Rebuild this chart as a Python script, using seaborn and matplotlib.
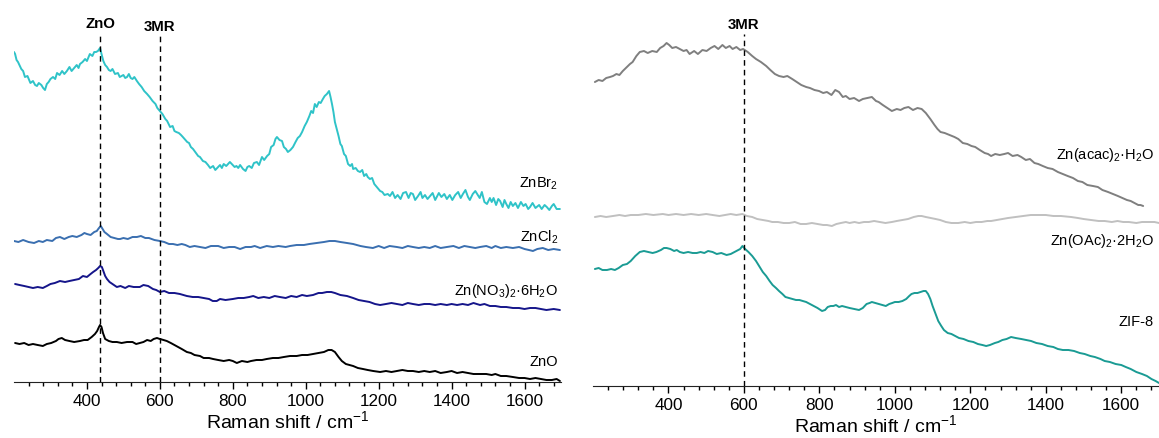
import numpy as np
import pandas as pd
import matplotlib.pyplot as plt
import seaborn as sns

# Raman shift positions (cm-1) and intensities (a.u.)
znbr2_x = [200, 203, 207, 211, 215, 220, 225, 230, 237, 245, 252, 258, 263, 268, 275, 280, 285, 290,
           295, 300, 307, 313, 318, 325, 332, 338, 345, 352, 358, 365, 372, 377, 381, 388, 395, 400,
           408, 415, 420, 425, 430, 436, 440, 445, 450, 455, 460, 465, 470, 477, 485, 490, 495, 500,
           505, 510, 515, 520, 525, 530, 537, 543, 550, 557, 565, 572, 580, 588, 593, 600, 607, 615,
           620, 628, 635, 640, 645, 652, 658, 663, 670, 675, 680, 685, 691, 697, 705, 710, 718, 725,
           732, 738, 746, 752, 760, 765, 770, 775, 782, 792, 800, 805, 810, 815, 820, 828, 835, 840,
           845, 852, 858, 866, 872, 880, 886, 894, 900, 905, 912, 917, 921, 928, 935, 940, 946, 951,
           958, 965, 972, 978, 984, 990, 997, 1003, 1010, 1015, 1020, 1025, 1030, 1036, 1041, 1047,
           1052, 1058, 1064, 1068, 1072, 1076, 1080, 1085, 1090, 1095, 1099, 1105, 1110, 1116, 1122,
           1127, 1130, 1137, 1143, 1149, 1155, 1160, 1166, 1170, 1176, 1182, 1188, 1195, 1204, 1210,
           1216, 1225, 1231, 1238, 1245, 1252, 1260, 1267, 1275, 1282, 1288, 1294, 1300, 1308, 1315,
           1320, 1327, 1334, 1341, 1348, 1355, 1365, 1372, 1380, 1387, 1395, 1402, 1410, 1418, 1425,
           1431, 1438, 1445, 1450, 1458, 1465, 1470, 1477, 1483, 1490, 1497, 1505, 1510, 1515, 1522,
           1528, 1533, 1540, 1545, 1550, 1556, 1562, 1568, 1575, 1582, 1590, 1597, 1603, 1610, 1615,
           1622, 1630, 1640, 1647, 1655, 1661, 1668, 1675, 1680, 1688, 1697]
znbr2_y = [160, 158, 152, 150, 147, 143, 141, 135, 136, 129, 131, 127, 126, 129, 127, 124, 122, 128,
           130, 133, 135, 133, 139, 137, 141, 138, 141, 145, 141, 144, 147, 144, 148, 150, 153, 151,
           158, 156, 160, 160, 161, 164, 158, 151, 147, 145, 142, 141, 143, 138, 139, 135, 136, 137,
           134, 135, 138, 134, 133, 135, 131, 128, 125, 121, 118, 115, 111, 108, 104, 101, 98, 93,
           91, 85, 86, 81, 80, 79, 77, 75, 72, 70, 69, 65, 63, 60, 56, 55, 51, 50,
           47, 44, 46, 42, 45, 47, 44, 48, 46, 50, 47, 45, 46, 44, 47, 43, 41, 45,
           46, 44, 49, 50, 47, 55, 52, 56, 58, 65, 67, 73, 75, 72, 71, 65, 63, 60,
           62, 65, 70, 74, 76, 80, 86, 90, 96, 101, 99, 108, 105, 110, 109, 113,
           116, 118, 121, 115, 108, 100, 90, 83, 76, 68, 66, 58, 56, 48, 46,
           48, 43, 44, 41, 40, 42, 36, 38, 35, 33, 34, 28, 25, 21, 20,
           17, 18, 16, 20, 14, 17, 13, 19, 20, 14, 19, 18, 12, 16, 20,
           14, 17, 13, 16, 19, 12, 19, 15, 18, 13, 17, 12, 17, 20, 14,
           18, 22, 15, 12, 18, 21, 18, 14, 20, 10, 8, 14, 10, 14, 7,
           13, 11, 5, 12, 8, 4, 10, 6, 9, 4, 10, 6, 8, 3, 5,
           9, 4, 7, 3, 7, 5, 2, 6, 8, 3, 3]

zncl2_x = [200, 212, 225, 240, 255, 268, 279, 290, 305, 315, 326, 338, 350, 360, 372, 385, 393, 400,
           410, 420, 427, 433, 438, 443, 448, 455, 465, 475, 485, 491, 500, 512, 525, 537, 548, 560,
           570, 585, 600, 612, 625, 636, 648, 660, 670, 682, 695, 710, 725, 740, 760, 775, 790, 805,
           820, 835, 850, 860, 875, 893, 910, 925, 945, 957, 975, 995, 1010, 1030, 1050, 1065, 1080,
           1095, 1113, 1130, 1150, 1165, 1184, 1200, 1215, 1230, 1250, 1265, 1280, 1294, 1310, 1325,
           1340, 1355, 1370, 1387, 1405, 1420, 1435, 1450, 1465, 1478, 1495, 1510, 1520, 1535, 1550,
           1568, 1585, 1600, 1612, 1623, 1635, 1650, 1665, 1680, 1697]
zncl2_y = [11, 10, 12, 10, 9, 11, 10, 12, 11, 14, 15, 13, 15, 16, 15, 17, 19, 18,
           17, 20, 21, 24, 26, 23, 20, 18, 15, 14, 13, 13, 14, 13, 15, 15, 16, 14,
           14, 12, 11, 10, 8, 8, 7, 8, 7, 5, 6, 5, 4, 6, 6, 4, 5, 5,
           3, 5, 5, 6, 4, 6, 5, 6, 5, 6, 7, 7, 8, 9, 10, 11, 11,
           10, 9, 8, 6, 5, 4, 6, 4, 6, 5, 4, 6, 5, 4, 5,
           4, 6, 4, 5, 6, 4, 6, 5, 4, 5, 6, 4, 6, 4, 5,
           4, 5, 3, 2, 1, 3, 4, 2, 3, 2]

zno3_x = [203, 215, 228, 240, 252, 265, 279, 290, 300, 312, 326, 340, 352, 365, 378, 389, 400, 410,
          417, 425, 431, 436, 441, 445, 450, 455, 462, 470, 482, 492, 505, 515, 528, 545, 555, 568,
          581, 590, 600, 612, 625, 640, 655, 674, 690, 705, 720, 735, 745, 756, 765, 780, 800, 815,
          830, 845, 856, 870, 885, 900, 915, 929, 945, 960, 975, 990, 1003, 1020, 1035, 1045, 1058,
          1070, 1080, 1095, 1113, 1130, 1145, 1160, 1175, 1190, 1204, 1220, 1235, 1250, 1265, 1280,
          1294, 1310, 1325, 1340, 1355, 1370, 1387, 1400, 1415, 1430, 1445, 1460, 1478, 1490, 1505,
          1520, 1535, 1550, 1568, 1585, 1600, 1615, 1630, 1645, 1660, 1680, 1697]
zno3_y = [28, 27, 26, 25, 24, 25, 24, 26, 28, 29, 31, 30, 31, 32, 33, 36, 35, 38,
          40, 42, 44, 46, 45, 41, 36, 33, 30, 28, 25, 26, 24, 26, 25, 25, 27, 26,
          23, 22, 20, 21, 19, 19, 18, 16, 15, 15, 14, 13, 11, 11, 13, 12, 13, 14,
          14, 15, 16, 14, 15, 14, 16, 15, 14, 16, 15, 17, 16, 17, 19, 19, 20,
          20, 19, 17, 16, 14, 12, 11, 10, 8, 7, 8, 9, 8, 7, 9,
          8, 7, 8, 8, 7, 8, 7, 8, 7, 8, 7, 9, 7, 8, 6,
          6, 5, 5, 4, 4, 3, 4, 4, 3, 2, 3, 2]

zno_x = [203, 215, 228, 240, 252, 265, 279, 290, 302, 315, 322, 331, 340, 352, 365, 381, 392, 402,
         413, 422, 428, 433, 436, 440, 444, 450, 460, 470, 482, 495, 510, 525, 535, 545, 555, 565,
         575, 583, 592, 600, 610, 619, 630, 640, 650, 660, 674, 685, 695, 710, 720, 735, 746, 760,
         775, 790, 800, 811, 825, 840, 850, 865, 880, 893, 910, 925, 940, 957, 975, 990, 1005, 1020,
         1035, 1050, 1062, 1071, 1080, 1090, 1099, 1110, 1120, 1130, 1143, 1157, 1170, 1185, 1204,
         1220, 1235, 1250, 1265, 1280, 1294, 1310, 1325, 1340, 1355, 1370, 1387, 1400, 1415, 1430,
         1445, 1460, 1478, 1495, 1510, 1520, 1535, 1550, 1568, 1585, 1600, 1615, 1630, 1645, 1660,
         1675, 1688, 1697]
zno_y = [39, 38, 39, 37, 38, 37, 36, 38, 39, 41, 43, 44, 42, 41, 40, 41, 42, 42,
         45, 48, 51, 55, 57, 55, 49, 43, 41, 40, 40, 39, 40, 40, 38, 39, 40, 42,
         41, 43, 44, 43, 42, 41, 39, 37, 35, 33, 30, 29, 27, 26, 24, 24, 23, 22,
         21, 22, 21, 19, 21, 20, 21, 22, 22, 23, 24, 24, 25, 26, 26, 27, 27, 28,
         29, 30, 32, 32, 30, 25, 21, 18, 17, 16, 14, 13, 12, 11, 10,
         11, 10, 11, 12, 11, 11, 10, 11, 10, 11, 9, 10, 11, 9, 10,
         9, 8, 8, 8, 7, 8, 6, 6, 5, 4, 4, 3, 4, 3, 2,
         2, 3, 1]

acac_x = [205, 215, 225, 235, 245, 253, 262, 270, 279, 290, 298, 305, 315, 324, 335, 345, 357, 369,
          378, 387, 395, 402, 410, 420, 430, 440, 448, 456, 468, 478, 490, 501, 512, 522, 532, 543,
          552, 562, 570, 580, 590, 598, 610, 622, 632, 645, 659, 670, 682, 693, 705, 715, 728, 740,
          752, 765, 775, 787, 799, 810, 820, 832, 842, 852, 862, 870, 880, 892, 905, 915, 927, 939,
          950, 957, 968, 980, 992, 1005, 1015, 1025, 1036, 1048, 1060, 1071, 1082, 1094, 1105, 1113,
          1121, 1132, 1145, 1158, 1168, 1180, 1192, 1203, 1213, 1225, 1238, 1247, 1255, 1266, 1278,
          1290, 1300, 1312, 1325, 1335, 1347, 1358, 1370, 1380, 1392, 1405, 1418, 1432, 1445, 1458,
          1472, 1485, 1497, 1510, 1525, 1538, 1550, 1565, 1578, 1591, 1603, 1615, 1625, 1635, 1645,
          1651, 1658]
acac_y = [144, 146, 145, 148, 149, 150, 152, 151, 155, 159, 162, 164, 170, 174, 175, 173, 175, 174,
          178, 180, 183, 181, 178, 179, 177, 175, 176, 172, 175, 172, 176, 175, 178, 180, 177, 181,
          178, 180, 177, 179, 176, 177, 174, 170, 167, 164, 160, 156, 152, 150, 149, 150, 147, 144,
          141, 139, 138, 136, 135, 133, 134, 131, 136, 134, 129, 130, 127, 128, 125, 127, 128, 129,
          125, 124, 121, 118, 115, 117, 116, 118, 119, 116, 118, 117, 113, 107, 101, 97,
          94, 93, 91, 89, 87, 83, 82, 80, 79, 76, 73, 72, 70, 72, 71,
          72, 73, 70, 71, 69, 66, 67, 63, 62, 60, 58, 57, 54, 52, 50,
          48, 45, 44, 41, 40, 39, 36, 34, 32, 30, 28, 26, 25, 23, 21,
          21, 20]

oac_x = [205, 220, 235, 253, 270, 285, 300, 320, 340, 360, 385, 400, 420, 440, 460, 480, 500, 517,
         535, 550, 565, 580, 596, 608, 622, 635, 650, 665, 675, 690, 705, 720, 735, 750, 765, 780,
         795, 810, 820, 833, 845, 857, 870, 880, 893, 905, 918, 931, 945, 960, 975, 992, 1005, 1020,
         1035, 1050, 1062, 1071, 1082, 1095, 1108, 1120, 1135, 1150, 1168, 1185, 1200, 1215, 1230,
         1245, 1255, 1270, 1285, 1300, 1320, 1340, 1360, 1380, 1400, 1420, 1440, 1467, 1485, 1500,
         1520, 1540, 1556, 1575, 1590, 1605, 1620, 1640, 1655, 1670, 1688, 1700]
oac_y = [19, 20, 19, 20, 21, 20, 21, 21, 22, 21, 22, 21, 22, 21, 22, 21, 22, 21,
         20, 21, 22, 21, 22, 20, 19, 17, 16, 15, 14, 14, 13, 13, 14, 12, 12, 13,
         12, 11, 11, 10, 12, 13, 14, 13, 14, 13, 14, 14, 15, 14, 13, 14, 15, 16,
         17, 19, 20, 20, 19, 18, 17, 16, 14, 13, 13, 14, 13, 14, 14,
         15, 15, 16, 17, 18, 19, 20, 21, 21, 21, 20, 20, 19, 18, 17,
         16, 15, 15, 14, 15, 14, 14, 13, 14, 14, 14, 13]

zif8_x = [205, 215, 225, 237, 248, 258, 268, 279, 290, 300, 312, 324, 335, 346, 358, 368, 380, 388,
          395, 405, 415, 422, 430, 440, 452, 464, 475, 485, 495, 505, 517, 528, 540, 554, 565, 575,
          585, 590, 596, 603, 612, 622, 632, 642, 650, 659, 668, 676, 685, 693, 702, 710, 719, 728,
          738, 747, 756, 765, 775, 785, 795, 807, 815, 822, 830, 837, 844, 852, 860, 870, 880, 892,
          905, 915, 925, 933, 939, 948, 958, 967, 976, 985, 993, 1000, 1010, 1020, 1030, 1038, 1044,
          1052, 1060, 1068, 1076, 1082, 1088, 1094, 1100, 1108, 1115, 1123, 1130, 1140, 1150, 1160,
          1170, 1182, 1195, 1208, 1220, 1232, 1242, 1252, 1265, 1274, 1285, 1296, 1308, 1320, 1335,
          1348, 1361, 1375, 1390, 1405, 1420, 1432, 1445, 1460, 1475, 1490, 1503, 1518, 1530, 1545,
          1556, 1570, 1585, 1600, 1612, 1625, 1640, 1655, 1668, 1680, 1691, 1700]
zif8_y = [117, 118, 116, 116, 117, 116, 118, 121, 122, 125, 130, 134, 135, 134, 133, 134, 136, 138,
          138, 137, 135, 136, 134, 133, 134, 133, 133, 134, 133, 135, 134, 132, 133, 131, 132, 134,
          136, 137, 140, 137, 134, 130, 125, 119, 114, 110, 105, 101, 98, 95, 92, 89, 88, 87,
          86, 86, 85, 84, 82, 80, 78, 75, 76, 79, 80, 80, 81, 79, 80, 79, 78, 77,
          76, 78, 82, 83, 84, 83, 82, 81, 80, 82, 83, 84, 84, 85, 87, 90, 92,
          93, 93, 94, 95, 95, 92, 87, 80, 72, 65, 60, 56, 53, 52, 50,
          48, 47, 45, 44, 42, 41, 40, 41, 43, 44, 46, 47, 49, 48, 47,
          46, 45, 43, 42, 40, 39, 37, 36, 36, 35, 33, 32, 30, 29, 27,
          25, 24, 22, 21, 19, 17, 14, 12, 10, 7, 5, 3]

left_names = ['ZnBr$_2$', 'ZnCl$_2$', 'Zn(NO$_3$)$_2$·6H$_2$O', 'ZnO']
left_offsets = [170, 130, 70, 0]
left_label_y = [199, 146, 92, 21]
left_colors = ['#2fc3c8', '#3a6fb0', '#15158a', '#000000']

right_names = ['Zn(acac)$_2$·H$_2$O', 'Zn(OAc)$_2$·2H$_2$O', 'ZIF-8']
right_offsets = [160, 150, 0]
right_label_y = [232, 146, 65]
right_colors = ['#7f7f7f', '#c0c0c0', '#1a9b94']

sns.set_style('white')
plt.rcParams['font.family'] = ['Liberation Sans', 'DejaVu Sans']
plt.rcParams['mathtext.fontset'] = 'custom'
plt.rcParams['mathtext.rm'] = 'Liberation Sans'
plt.rcParams['mathtext.it'] = 'Liberation Sans'
plt.rcParams['text.color'] = 'black'
plt.rcParams['axes.labelcolor'] = 'black'
plt.rcParams['xtick.color'] = 'black'

fig = plt.figure(figsize=(11.59, 4.39), dpi=100)
ax1 = fig.add_axes([14 / 1159, 56 / 439, 547 / 1159, 383 / 439])
ax2 = fig.add_axes([593 / 1159, 52 / 439, 566 / 1159, 387 / 439])


def draw(ax, spectra, names, offsets, colors, label_y, label_x):
    for (x, y), name, off, c, ly in zip(spectra, names, offsets, colors, label_y):
        df = pd.DataFrame({'shift': x, 'intensity': np.array(y) + off})
        sns.lineplot(data=df, x='shift', y='intensity', ax=ax, color=c, lw=1.4, estimator=None)
        ax.text(label_x, ly, name, ha='right', va='center', fontsize=10.5, color='black')


draw(ax1, [(znbr2_x, znbr2_y), (zncl2_x, zncl2_y), (zno3_x, zno3_y), (zno_x, zno_y)],
     left_names, left_offsets, left_colors, left_label_y, 1692)
draw(ax2, [(acac_x, acac_y), (oac_x, oac_y), (zif8_x, zif8_y)],
     right_names, right_offsets, right_colors, right_label_y, 1687)

ax1.set_ylim(0, 383)
ax2.set_ylim(0, 387)
ax1.vlines([437, 600], 0, 348, colors='black', linestyles=(0, (4, 3)), lw=1)
ax1.text(437, 359, 'ZnO', ha='center', va='center', fontsize=10.8, fontweight='bold')
ax1.text(600, 356, '3MR', ha='center', va='center', fontsize=10.8, fontweight='bold')
ax2.vlines([600], 0, 352, colors='black', linestyles=(0, (4, 3)), lw=1)
ax2.text(600, 362, '3MR', ha='center', va='center', fontsize=10.8, fontweight='bold')

for ax in (ax1, ax2):
    ax.set_xlim(200, 1700)
    ax.set_xticks([400, 600, 800, 1000, 1200, 1400, 1600])
    ax.set_xticks(np.arange(240, 1700, 40), minor=True)
    ax.set_yticks([])
    ax.set_ylabel('')
    ax.set_xlabel('Raman shift / cm$^{-1}$', fontsize=14, labelpad=1)
    for s in ('left', 'right', 'top'):
        ax.spines[s].set_visible(False)
    ax.spines['bottom'].set_color('#222222')
    ax.tick_params(axis='x', which='major', direction='out', length=5, width=1,
                   labelsize=12.3, pad=3, bottom=True, colors='black')
    ax.tick_params(axis='x', which='minor', direction='out', length=3, width=1, bottom=True,
                   colors='black')
    ax.patch.set_alpha(0)

fig.savefig('out.png', dpi=100)
